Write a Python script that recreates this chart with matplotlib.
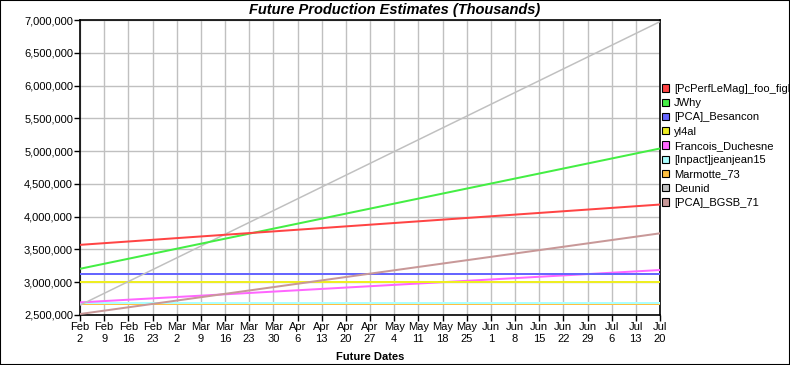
import matplotlib
matplotlib.use("Agg")
import matplotlib.pyplot as plt
import matplotlib.patches as mpatches
from matplotlib.ticker import FuncFormatter, MultipleLocator
import pandas as pd

plt.rcParams['font.family'] = ['Liberation Sans', 'DejaVu Sans']

# weekly estimate dates shown on the x axis
tickDates = pd.date_range('2009-02-02', '2009-07-20', freq='7D')
tickLabels = [f"{d:%b}\n{d.day}" for d in tickDates]

# each player's estimate at the first and last date (lines are straight)
lineDates = [tickDates[0], tickDates[-1]]
players = ['[PcPerfLeMag]_foo_fighters', 'JWhy', '[PCA]_Besancon', 'yl4al', 'Francois_Duchesne',
           '[Inpact]jeanjean15', 'Marmotte_73', 'Deunid', '[PCA]_BGSB_71']
startValues = [3570000, 3205000, 3125000, 3008000, 2692000, 2677000, 2670000, 2650000, 2515000]
endValues = [4185000, 5040000, 3125000, 3008000, 3186000, 2677000, 2670000, 6975000, 3746000]
colors = ['#ff4444', '#44ee44', '#6666ff', '#eeee22', '#ff66ff', '#aaffff', '#ffc040', '#c0c0c0', '#c89898']
widths = [2.0, 2.0, 2.0, 2.0, 2.0, 2.0, 2.0, 1.5, 2.0]
drawOrder = [6, 5, 4, 3, 2, 8, 7, 1, 0]

fig = plt.figure(figsize=(7.9, 3.65), dpi=100)
ax = fig.add_axes([80 / 790, 1 - 315 / 365, 580 / 790, 295 / 365])

for i in drawOrder:
    ax.plot(lineDates, [startValues[i], endValues[i]], color=colors[i], linewidth=widths[i] * 0.72,
            solid_capstyle='butt', zorder=3)

ax.set_xlim(tickDates[0], tickDates[-1])
ax.set_ylim(2500000, 7000000)
ax.set_xticks(tickDates)
ax.set_xticklabels(tickLabels, fontsize=8)
ax.yaxis.set_major_locator(MultipleLocator(500000))
ax.yaxis.set_major_formatter(FuncFormatter(lambda v, p: f'{int(v):,}'))
ax.tick_params(axis='y', labelsize=8, length=4, width=1, pad=1)
ax.tick_params(axis='x', length=4, width=1, pad=1)
ax.grid(color='#c0c0c0', linewidth=1, zorder=1)
ax.set_axisbelow(True)
for s in ax.spines.values():
    s.set_linewidth(1.2)

fig.text(395 / 790, 1 - 10 / 365, 'Future Production Estimates (Thousands)', fontsize=10.5,
         fontweight='bold', fontstyle='italic', ha='center', va='center')
ax.set_xlabel('Future Dates', fontsize=8, fontweight='bold', labelpad=6)

handles = [mpatches.Patch(facecolor=c, edgecolor='black', linewidth=0.8) for c in colors]
fig.legend(handles, players, loc='upper left', bbox_to_anchor=(662 / 790, 1 - 84 / 365), frameon=False,
           fontsize=8, handlelength=0.65, handleheight=0.65, handletextpad=0.45, labelspacing=0.38,
           borderpad=0, borderaxespad=0)

fig.patches.append(mpatches.Rectangle((0, 0), 1, 1, transform=fig.transFigure, fill=False,
                                      edgecolor='black', linewidth=1.5))

fig.savefig('out.png', dpi=100)
